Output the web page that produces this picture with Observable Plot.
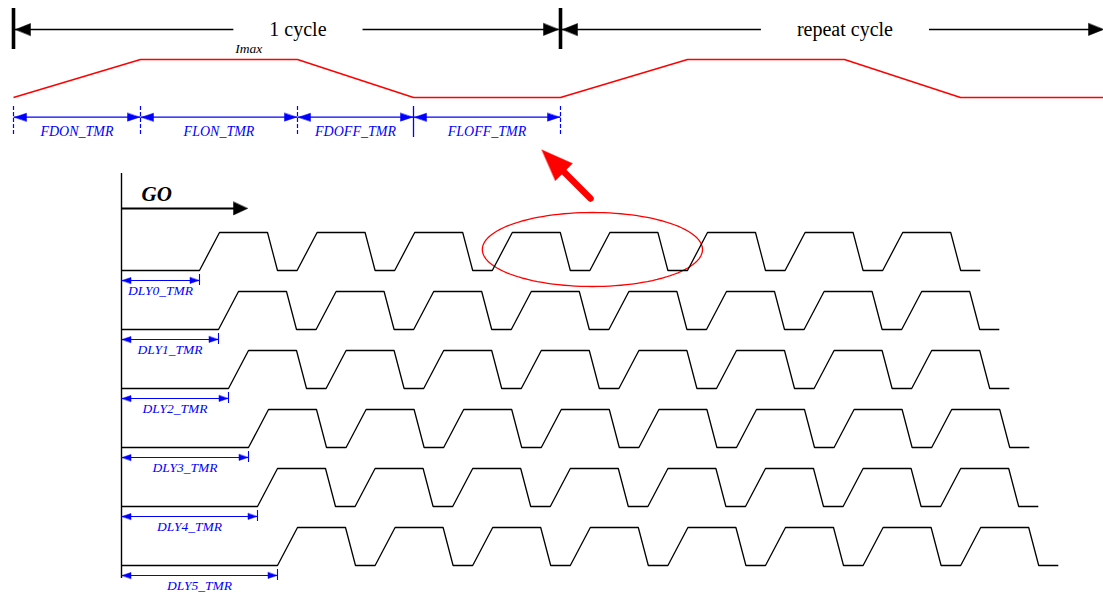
<!DOCTYPE html>
<html><head><meta charset="utf-8">
<script src="https://cdn.jsdelivr.net/npm/d3@7"></script>
<script src="https://cdn.jsdelivr.net/npm/@observablehq/plot@0.6"></script>
<style>html,body{margin:0;padding:0;background:#fff;overflow:hidden}</style>
</head><body><div id="chart"></div>
<script>
// ---------------- data ----------------
const cycleLabels = ["1 cycle", "repeat cycle"];
const phaseNames = ["FDON_TMR", "FLON_TMR", "FDOFF_TMR", "FLOFF_TMR"];
const phaseDurations = [127, 157, 116, 147];
const phaseEndLevels = [1, 1, 0, 0];          // 0 = low, 1 = Imax
const phaseSolidMarker = [false, false, false, true, false]; // boundary marker styles
const peakLabel = "Imax";
const goLabel = "GO";
const channelNames = ["DLY0_TMR", "DLY1_TMR", "DLY2_TMR", "DLY3_TMR", "DLY4_TMR", "DLY5_TMR"];
const channelDelays = [78, 97, 107, 127, 136, 156];
const pulseSegments = ["rise", "high", "fall", "low"];
const pulseDurations = [20, 48, 10, 19.6];
const pulseEndLevels = [1, 1, 0, 0];
const pulsesPerChannel = 8;
const highlightedPulses = [3, 4];             // pulses of channel 0 circled in red

// ---------------- layout ----------------
const W = 1103, H = 592;
const serif = "'Liberation Serif', 'Times New Roman', Times, serif";
const BLUE = "#0000ff", RED = "#ff0000", BLACK = "#000000";
const topX0 = 13, cycleArrowY = 29, barTop = 8, barBottom = 49;
const redLowY = 97, redAmp = 38;
const phaseArrowY = 116.7, phaseTickTop = 106, phaseTickBottom = 136, phaseLabelY = 131;
const originX = 121, baseline0 = 270, rowGap = 59, pulseAmp = 38;
const axisTop = 173, axisBottom = 578;
const goY = 208, goLen = 126;
const cycleFont = 20;

const cycleLen = d3.sum(phaseDurations);
const pulsePeriod = d3.sum(pulseDurations);

// arrow-head polygons
const heads = {black: [], blue: [], red: []};
let hid = 0;
function head(color, tipX, tipY, dx, dy, len, half) {
  const n = Math.hypot(dx, dy); dx /= n; dy /= n;
  const bx = tipX - dx * len, by = tipY - dy * len;
  const id = hid++;
  heads[color].push({id, x: tipX, y: tipY},
    {id, x: bx - dy * half, y: by + dx * half},
    {id, x: bx + dy * half, y: by - dx * half});
}

// cycle arrows
const ctx = document.createElement("canvas").getContext("2d");
ctx.font = `${cycleFont}px ${serif}`;
const cycleStarts = cycleLabels.map((_, i) => topX0 + i * cycleLen);
const cycleSegs = [], cycleText = [];
cycleLabels.forEach((lab, i) => {
  const s = cycleStarts[i], e = Math.min(s + cycleLen, W);
  const cx = s + 0.52 * cycleLen;
  const g = ctx.measureText(lab).width / 2 + 36;
  cycleSegs.push({x1: s, x2: cx - g}, {x1: cx + g, x2: e - 2});
  cycleText.push({x: cx, label: lab});
  head("black", s + 2, cycleArrowY, -1, 0, 15, 6);
  head("black", e - (i === cycleLabels.length - 1 ? 0 : 2), cycleArrowY, 1, 0, 15, 6);
});

// red current waveform
const redPts = [{x: topX0, y: redLowY}];
{
  let t = topX0;
  for (let c = 0; c < cycleLabels.length; c++)
    phaseDurations.forEach((d, i) => { t += d; redPts.push({x: Math.min(t, W), y: redLowY - redAmp * phaseEndLevels[i]}); });
}

// phase markers
const bounds = [topX0];
phaseDurations.forEach(d => bounds.push(bounds[bounds.length - 1] + d));
const boundData = bounds.map((x, i) => ({x, solid: phaseSolidMarker[i]}));
const phaseSegs = phaseNames.map((name, i) => ({name, x1: bounds[i], x2: bounds[i + 1], mid: (bounds[i] + bounds[i + 1]) / 2}));
phaseSegs.forEach(s => { head("blue", s.x1 + 1, phaseArrowY, -1, 0, 12, 4); head("blue", s.x2 - 1, phaseArrowY, 1, 0, 12, 4); });
const imaxX = bounds[1] + 0.69 * phaseDurations[1];

// channel waveforms
const wavePts = [], dly = [];
channelNames.forEach((name, i) => {
  const b = baseline0 + i * rowGap;
  let x = originX;
  wavePts.push({ch: name, x, y: b});
  x += channelDelays[i];
  wavePts.push({ch: name, x, y: b});
  for (let k = 0; k < pulsesPerChannel; k++)
    pulseDurations.forEach((d, j) => { x += d; wavePts.push({ch: name, x, y: b - pulseAmp * pulseEndLevels[j]}); });
  const e = originX + channelDelays[i];
  dly.push({name, b, x1: originX, x2: e, mid: (originX + e) / 2});
  head("blue", originX + 0.5, b + 10, -1, 0, 9, 3);
  head("blue", e - 0.5, b + 10, 1, 0, 9, 3);
});

// highlight ellipse around pulses of channel 0
const p0 = originX + channelDelays[0];
const eLeft = p0 + highlightedPulses[0] * pulsePeriod - 10;
const eRight = p0 + (highlightedPulses[1] + 1) * pulsePeriod + 15;
const ecx = (eLeft + eRight) / 2, erx = (eRight - eLeft) / 2;
const ecy = baseline0 - pulseAmp / 2 - 2, ery = 37;
const ellipse = d3.range(0, 360, 3).map(a => ({x: ecx + erx * Math.cos(a * Math.PI / 180), y: ecy + ery * Math.sin(a * Math.PI / 180)}));

// red pointer arrow
const rTail = {x: 590, y: 198}, rTip = {x: 541.5, y: 149.5};
const rdx = rTip.x - rTail.x, rdy = rTip.y - rTail.y, rn = Math.hypot(rdx, rdy);
const rBase = {x: rTip.x - rdx / rn * 28, y: rTip.y - rdy / rn * 28};
head("red", rTip.x, rTip.y, rdx, rdy, 31, 12);

// GO arrow
head("black", originX + goLen, goY, 1, 0, 14, 6.5);

const plot = Plot.plot({
  width: W, height: H, margin: 0,
  x: {domain: [0, W], range: [0, W], axis: null},
  y: {domain: [0, H], range: [0, H], axis: null},
  style: {background: "#fff"},
  marks: [
    // cycle arrows
    Plot.ruleX(cycleStarts, {x: d => d, y1: barTop, y2: barBottom, stroke: BLACK, strokeWidth: 3.6}),
    Plot.link(cycleSegs, {x1: "x1", x2: "x2", y1: cycleArrowY, y2: cycleArrowY, stroke: BLACK, strokeWidth: 1.3}),
    Plot.text(cycleText, {x: "x", y: cycleArrowY, text: "label", fontFamily: serif, fontSize: cycleFont, fill: BLACK}),
    // current waveform
    Plot.line(redPts, {x: "x", y: "y", stroke: RED, strokeWidth: 1.5, curve: "linear", strokeLinecap: "butt"}),
    Plot.text([peakLabel], {x: imaxX, y: 48.5, text: d => d, fontFamily: serif, fontStyle: "italic", fontSize: 13.5, fill: BLACK}),
    // phase markers
    Plot.ruleX(boundData.filter(d => !d.solid), {x: "x", y1: phaseTickTop, y2: phaseTickBottom, stroke: BLUE, strokeWidth: 1.2, strokeDasharray: "4,2"}),
    Plot.ruleX(boundData.filter(d => d.solid), {x: "x", y1: phaseTickTop, y2: phaseTickBottom + 1, stroke: BLUE, strokeWidth: 1.3}),
    Plot.link(phaseSegs, {x1: "x1", x2: "x2", y1: phaseArrowY, y2: phaseArrowY, stroke: BLUE, strokeWidth: 1.2}),
    Plot.text(phaseSegs, {x: "mid", y: phaseLabelY, text: "name", fontFamily: serif, fontStyle: "italic", fontSize: 14, fill: BLUE}),
    // red pointer & ellipse
    Plot.link([0], {x1: rTail.x, y1: rTail.y, x2: rBase.x, y2: rBase.y, stroke: RED, strokeWidth: 6.5, strokeLinecap: "round"}),
    Plot.line(ellipse, {x: "x", y: "y", stroke: RED, strokeWidth: 1.3, curve: "linear-closed"}),
    // GO axis
    Plot.ruleX([originX], {x: d => d, y1: axisTop, y2: axisBottom, stroke: BLACK, strokeWidth: 1.4}),
    Plot.link([0], {x1: originX, x2: originX + goLen - 10, y1: goY, y2: goY, stroke: BLACK, strokeWidth: 2}),
    Plot.text([goLabel], {x: originX + 20, y: 194, text: d => d, textAnchor: "start", fontFamily: serif, fontStyle: "italic", fontWeight: "bold", fontSize: 21, fill: BLACK}),
    // channel waveforms
    Plot.line(wavePts, {x: "x", y: "y", z: "ch", stroke: BLACK, strokeWidth: 1.3, curve: "linear", strokeLinejoin: "miter", strokeLinecap: "butt"}),
    // delay arrows
    Plot.link(dly, {x1: "x1", x2: "x2", y1: d => d.b + 10, y2: d => d.b + 10, stroke: BLUE, strokeWidth: 1.1}),
    Plot.ruleX(dly, {x: "x2", y1: d => d.b + 4, y2: d => d.b + 15, stroke: BLUE, strokeWidth: 1.1}),
    Plot.text(dly, {x: "mid", y: d => d.b + 20.5, text: "name", fontFamily: serif, fontStyle: "italic", fontSize: 13.5, fill: BLUE}),
    // arrow heads
    Plot.line(heads.black, {x: "x", y: "y", z: "id", fill: BLACK, stroke: BLACK, strokeWidth: 0.5, curve: "linear-closed"}),
    Plot.line(heads.blue, {x: "x", y: "y", z: "id", fill: BLUE, stroke: BLUE, strokeWidth: 0.5, curve: "linear-closed"}),
    Plot.line(heads.red, {x: "x", y: "y", z: "id", fill: RED, stroke: RED, strokeWidth: 0.5, curve: "linear-closed"})
  ]
});
document.getElementById("chart").appendChild(plot);
</script>
</body></html>
